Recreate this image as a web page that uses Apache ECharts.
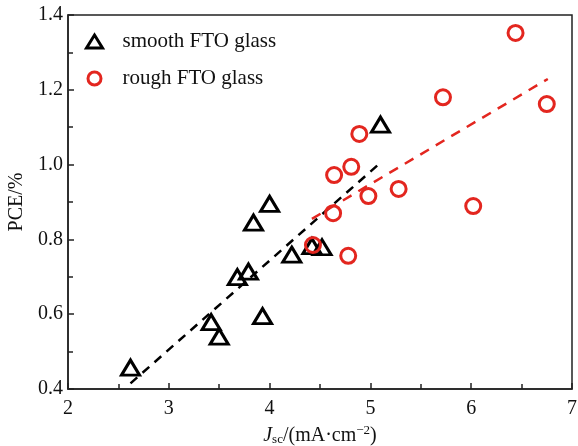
<!DOCTYPE html>
<html>
<head>
<meta charset="utf-8">
<script src="https://cdn.jsdelivr.net/npm/echarts@6/dist/echarts.min.js"></script>
<style>
  html, body { margin: 0; padding: 0; background: #fff; }
  #chart { width: 578px; height: 446px; }
</style>
</head>
<body>
<div id="chart"></div>
<script>
// smooth FTO glass (triangles)
var smoothJsc = [2.62, 3.42, 3.50, 3.68, 3.79, 3.93, 3.84, 4.00, 4.22, 4.42, 4.52, 5.10];
var smoothPce = [0.457, 0.579, 0.540, 0.699, 0.714, 0.595, 0.845, 0.895, 0.759, 0.782, 0.779, 1.107];
// rough FTO glass (circles)
var roughJsc = [4.43, 4.63, 4.64, 4.78, 4.81, 4.89, 4.98, 5.28, 5.72, 6.02, 6.44, 6.75];
var roughPce = [0.785, 0.870, 0.972, 0.756, 0.994, 1.082, 0.916, 0.935, 1.180, 0.889, 1.352, 1.162];
// dashed fit lines (end points)
var smoothFitX = [2.62, 5.10];
var smoothFitY = [0.415, 1.005];
var roughFitX = [4.42, 6.76];
var roughFitY = [0.855, 1.229];

function pairs(xs, ys) {
  return xs.map(function (x, i) { return [x, ys[i]]; });
}

var red = '#e3261f';
var black = '#000';
var serif = '"Liberation Serif", "DejaVu Serif", serif';

var chart = echarts.init(document.getElementById('chart'));
chart.setOption({
  animation: false,
  grid: {
    left: 68, right: 6, top: 15, bottom: 57,
    outerBoundsMode: 'none', containLabel: false,
    show: true, borderColor: '#222', borderWidth: 1.5
  },
  legend: {
    orient: 'vertical',
    left: 80, top: 26,
    itemGap: 16,
    itemWidth: 16, itemHeight: 13,
    itemStyle: { borderWidth: 3 },
    textStyle: { fontFamily: serif, fontSize: 21, color: '#111', padding: [0, 0, 0, 15] },
    data: ['smooth FTO glass', 'rough FTO glass']
  },
  xAxis: {
    type: 'value', min: 2, max: 7, interval: 1,
    name: '{i|J}{sub|sc}{t|/(mA·cm}{sup|−2}{t|)}',
    nameLocation: 'middle', nameGap: 31,
    nameTextStyle: {
      rich: {
        i: { fontFamily: serif, fontSize: 20, fontStyle: 'italic', color: '#111' },
        t: { fontFamily: serif, fontSize: 20, color: '#111' },
        sub: { fontFamily: serif, fontSize: 13, color: '#111', padding: [9, 0, 0, 0] },
        sup: { fontFamily: serif, fontSize: 13, color: '#111', padding: [0, 0, 10, 0] }
      }
    },
    axisLine: { lineStyle: { color: '#222', width: 1.5 } },
    axisTick: { inside: true, length: 6, lineStyle: { color: '#222', width: 1.5 } },
    minorTick: { show: true, splitNumber: 2, length: 5, lineStyle: { color: '#222', width: 1.5 } },
    axisLabel: { fontFamily: serif, fontSize: 20, color: '#111', margin: 10 },
    splitLine: { show: false }
  },
  yAxis: {
    type: 'value', min: 0.4, max: 1.4, interval: 0.2,
    name: 'PCE/%', nameLocation: 'middle', nameGap: 31, nameRotate: 90,
    nameTextStyle: { fontFamily: serif, fontSize: 20, color: '#111' },
    axisLine: { show: true, lineStyle: { color: '#222', width: 1.5 } },
    axisTick: { show: true, inside: true, length: 6, lineStyle: { color: '#222', width: 1.5 } },
    minorTick: { show: true, splitNumber: 2, length: 5, lineStyle: { color: '#222', width: 1.5 } },
    axisLabel: {
      fontFamily: serif, fontSize: 20, color: '#111', margin: 5,
      formatter: function (v) { return v.toFixed(1); }
    },
    splitLine: { show: false }
  },
  series: [
    {
      name: 'smooth FTO glass', type: 'scatter',
      symbol: 'triangle', symbolSize: [18, 15],
      itemStyle: { color: 'rgba(0,0,0,0)', borderColor: black, borderWidth: 3, opacity: 1 },
      data: pairs(smoothJsc, smoothPce), z: 3
    },
    {
      name: 'rough FTO glass', type: 'scatter',
      symbol: 'circle', symbolSize: 15,
      itemStyle: { color: 'rgba(0,0,0,0)', borderColor: red, borderWidth: 3, opacity: 1 },
      data: pairs(roughJsc, roughPce), z: 3
    },
    {
      type: 'line', data: pairs(smoothFitX, smoothFitY), symbol: 'none',
      lineStyle: { color: black, width: 2.5, type: [9, 7] }, z: 2
    },
    {
      type: 'line', data: pairs(roughFitX, roughFitY), symbol: 'none',
      lineStyle: { color: red, width: 2.5, type: [10, 8] }, z: 2
    }
  ]
});
</script>
</body>
</html>
